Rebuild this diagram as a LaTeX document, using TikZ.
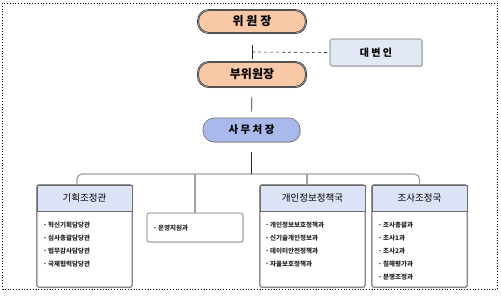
\documentclass[tikz,border=0pt]{standalone}
\usepackage{fontspec}
\newfontfamily\kr{Noto Sans CJK KR}
\usetikzlibrary{shadows}
\definecolor{peach}{HTML}{F9C8A6}
\definecolor{lav}{HTML}{A9B9EB}
\definecolor{hdr}{HTML}{DDE3F6}
\definecolor{spk}{HTML}{E3E8F6}
\definecolor{bord}{HTML}{6E6E6E}
\definecolor{busc}{HTML}{A0A0A0}
\begin{document}
\begin{tikzpicture}[x=1pt,y=-1pt,
  every node/.style={font=\kr},
  topbox/.style={draw=black!85, double=black!35, double distance=0.7pt, line width=0.6pt,
     fill=peach, minimum width=108pt, rounded corners=11pt, inner sep=0pt,
     font=\kr\bfseries\fontsize{12}{12}\selectfont,
     drop shadow={shadow xshift=1pt, shadow yshift=-1pt, opacity=0.25}},
  lavbox/.style={draw=bord, line width=0.6pt, fill=lav, minimum width=97pt, minimum height=24pt,
     rounded corners=11pt, inner sep=0pt, font=\kr\bfseries\fontsize{10.5}{10.5}\selectfont,
     drop shadow={shadow xshift=1pt, shadow yshift=-1pt, opacity=0.25}},
  spkbox/.style={draw=bord, line width=0.6pt, fill=spk, minimum width=92pt, minimum height=27pt,
     rounded corners=1.5pt, inner sep=0pt, font=\kr\bfseries\fontsize{10}{10}\selectfont,
     drop shadow={shadow xshift=1pt, shadow yshift=-1pt, opacity=0.25}},
  unitbox/.style={draw=bord, line width=0.6pt, fill=white, minimum width=95pt, rounded corners=2pt,
     inner sep=0pt, drop shadow={shadow xshift=1pt, shadow yshift=-1pt, opacity=0.2}},
  hdrbox/.style={draw=bord, line width=0.6pt, fill=hdr, minimum width=95pt, minimum height=26pt,
     inner sep=0pt, font=\kr\fontsize{9.5}{9.5}\selectfont},
  item/.style={anchor=west, inner sep=0pt, font=\kr\bfseries\fontsize{6.5}{6.5}\selectfont, text=black!85},
  link/.style={draw=black!85, line width=0.7pt},
  bus/.style={draw=busc, line width=1.2pt},
  frame/.style={draw=black, line width=0.8pt, dotted}
]
\useasboundingbox (0,0) rectangle (501,295);
\path[frame] (2.5,3) rectangle (497.5,289);

% top chain
\node[topbox, minimum height=23pt] (wiwon) at (252,21.5) {위 원 장};
\node[topbox, minimum height=25pt] (buwi) at (252,74.5) {부위원장};
\node[lavbox] (samu) at (251.5,130) {사 무 처 장};
\node[spkbox] (spk) at (376,52.5) {대 변 인};

\coordinate (dj) at (252,52);
\draw[link, shorten <=12pt, shorten >=3pt] (wiwon.south) -- (buwi.north);
\draw[link, dashed, line width=0.6pt] (dj) -- (spk.west);
\draw[link, shorten <=10pt, shorten >=6pt] (buwi.south) -- (samu.north);

% units
\node[unitbox, minimum height=102pt] (k1) at (84.5,236) {};
\node[hdrbox, anchor=north] (h1) at (k1.north) {기획조정관};
\node[unitbox, minimum width=96pt, minimum height=29pt] (k2) at (195,227.5) {};
\node[unitbox, minimum width=105pt, minimum height=102pt] (k3) at (312.5,236) {};
\node[hdrbox, minimum width=105pt, anchor=north] (h3) at (k3.north) {개인정보정책국};
\node[unitbox, minimum height=102pt] (k4) at (419.5,236) {};
\node[hdrbox, anchor=north] (h4) at (k4.north) {조사조정국};
\draw[draw=bord, line width=0.6pt, rounded corners=2pt] (k1.north west) rectangle (k1.south east);
\draw[draw=bord, line width=0.6pt, rounded corners=2pt] (k3.north west) rectangle (k3.south east);
\draw[draw=bord, line width=0.6pt, rounded corners=2pt] (k4.north west) rectangle (k4.south east);

% bus
\coordinate (bl) at (77,174);
\coordinate (d1) at (77,185);
\coordinate (br) at (419.5,174);
\coordinate (d3) at (307,185);
\draw[bus, rounded corners=5pt] (d1) -- (bl) -- (br) -- (k4.north);
\draw[bus] (k2.north |- bl) -- (k2.north);
\draw[bus] (d3 |- bl) -- (d3);
\draw[link] (samu.south) ++(0,10) -- (samu.south |- bl);

% items
\node[item] (a1) at (43,225) {·\,혁신기획담당관};
\node[item] (a2) at (43,238) {·\,심사총괄담당관};
\node[item] (a3) at (43,251) {·\,법무감사담당관};
\node[item] (a4) at (43,264) {·\,국제협력담당관};
\node[item] (b1) at (153,228) {·\,운영지원과};
\node[item] (c1) at (265,225) {·\,개인정보보호정책과};
\node[item] (c2) at (265,238) {·\,신기술개인정보과};
\node[item] (c3) at (265,251) {·\,데이터안전정책과};
\node[item] (c4) at (265,264) {·\,자율보호정책과};
\node[item] (e1) at (378,225) {·\,조사총괄과};
\node[item] (e2) at (378,238) {·\,조사1과};
\node[item] (e3) at (378,251) {·\,조사2과};
\node[item] (e4) at (378,264) {·\,침해평가과};
\node[item] (e5) at (378,277) {·\,분쟁조정과};
\end{tikzpicture}
\end{document}
